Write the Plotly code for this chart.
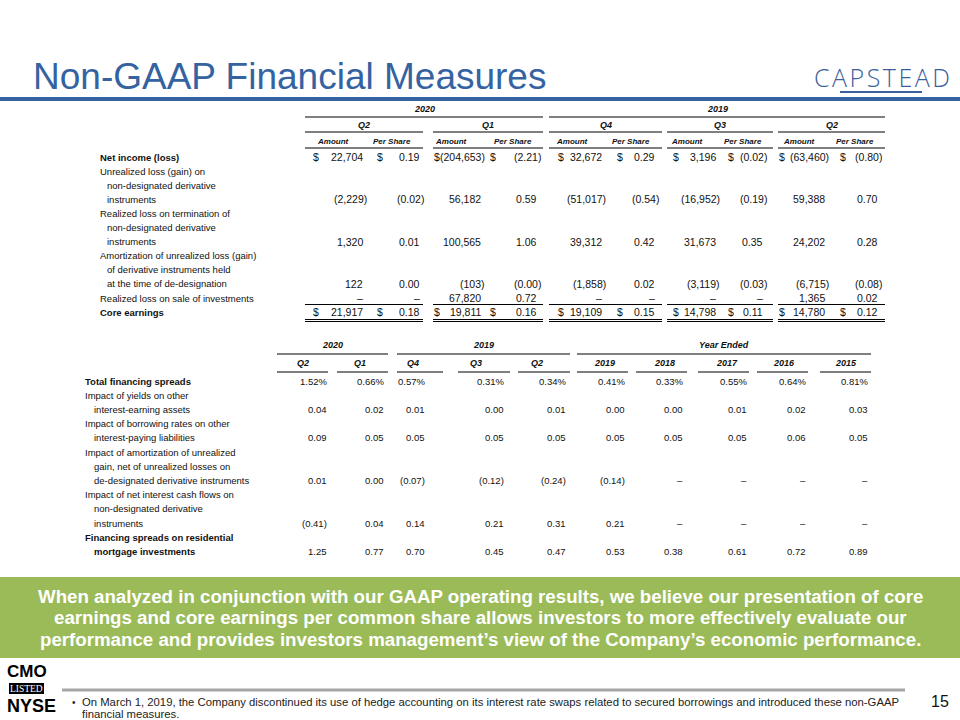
import math
import plotly.graph_objects as go

# ------------------------------------------------------------------ data
title_text = "Non-GAAP Financial Measures"
logo_text = "CAPSTEAD"

# Table 1 : core earnings reconciliation
t1_years = ["2020", "2019"]
t1_quarters = ["Q2", "Q1", "Q4", "Q3", "Q2"]
t1_subheads = ["Amount", "Per Share"]
net_income_amt = [22704, -204653, 32672, 3196, -63460]
net_income_ps = [0.19, -2.21, 0.29, -0.02, -0.80]
unrealized_amt = [-2229, 56182, -51017, -16952, 59388]
unrealized_ps = [-0.02, 0.59, -0.54, -0.19, 0.70]
termination_amt = [1320, 100565, 39312, 31673, 24202]
termination_ps = [0.01, 1.06, 0.42, 0.35, 0.28]
amortization_amt = [122, -103, -1858, -3119, -6715]
amortization_ps = [0.00, -0.0, 0.02, -0.03, -0.08]
sale_amt = [None, 67820, None, None, 1365]
sale_ps = [None, 0.72, None, None, 0.02]
core_amt = [21917, 19811, 19109, 14798, 14780]
core_ps = [0.18, 0.16, 0.15, 0.11, 0.12]

t1_labels = [
    ["Net income (loss)"],
    ["Unrealized loss (gain) on", "non-designated derivative", "instruments"],
    ["Realized loss on termination of", "non-designated derivative", "instruments"],
    ["Amortization of unrealized loss (gain)", "of derivative instruments held",
     "at the time of de-designation"],
    ["Realized loss on sale of investments"],
    ["Core earnings"],
]

# Table 2 : financing spreads
t2_groups = ["2020", "2019", "Year Ended"]
t2_columns = ["Q2", "Q1", "Q4", "Q3", "Q2", "2019", "2018", "2017", "2016", "2015"]
total_spreads = [1.52, 0.66, 0.57, 0.31, 0.34, 0.41, 0.33, 0.55, 0.64, 0.81]
yields_other_assets = [0.04, 0.02, 0.01, 0.00, 0.01, 0.00, 0.00, 0.01, 0.02, 0.03]
borrowing_other_liab = [0.09, 0.05, 0.05, 0.05, 0.05, 0.05, 0.05, 0.05, 0.06, 0.05]
amortization_impact = [0.01, 0.00, -0.07, -0.12, -0.24, -0.14, None, None, None, None]
net_interest_impact = [-0.41, 0.04, 0.14, 0.21, 0.31, 0.21, None, None, None, None]
residential_spreads = [1.25, 0.77, 0.70, 0.45, 0.47, 0.53, 0.38, 0.61, 0.72, 0.89]

t2_labels = [
    ["Total financing spreads"],
    ["Impact of yields on other", "interest-earning assets"],
    ["Impact of borrowing rates on other", "interest-paying liabilities"],
    ["Impact of amortization of unrealized", "gain, net of unrealized losses on",
     "de-designated derivative instruments"],
    ["Impact of net interest cash flows on", "non-designated derivative", "instruments"],
    ["Financing spreads on residential", "mortgage investments"],
]

callout_lines = [
    "When analyzed in conjunction with our GAAP operating results, we believe our presentation of core",
    "earnings and core earnings per common share allows investors to more effectively evaluate our",
    "performance and provides investors management\u2019s view of the Company\u2019s economic performance.",
]
footnote_lines = [
    "On March 1, 2019, the Company discontinued its use of hedge accounting on its interest rate swaps "
    "related to secured borrowings and introduced these non-GAAP",
    "financial measures.",
]
page_number = "15"

# ------------------------------------------------------------------ style / layout constants
ARIAL = "Arial, Liberation Sans, sans-serif"
BLUE = "#3563A2"
GREEN = "#9BBB59"
DASH = "\u2013"

annotations = []
shapes = []


def text(x, y, s, size=9.5, anchor="left", color="#111111", family=ARIAL, weight=None):
    font = dict(size=size, color=color, family=family)
    if weight is not None:
        font["weight"] = weight
    annotations.append(dict(x=x, y=y, xref="x", yref="y", text=s, showarrow=False,
                            xanchor=anchor, yanchor="middle", font=font,
                            borderpad=0, borderwidth=0))


def hline(x0, x1, y, color="#000000", width=1):
    shapes.append(dict(type="line", xref="x", yref="y", x0=x0, x1=x1, y0=y, y1=y,
                       line=dict(color=color, width=width)))


def box(x0, x1, y0, y1, color):
    shapes.append(dict(type="rect", xref="x", yref="y", x0=x0, x1=x1, y0=y0, y1=y1,
                       fillcolor=color, line=dict(width=0), layer="below"))


def is_neg(v):
    return v is not None and math.copysign(1.0, v) < 0


def fmt_amount(v):
    if v is None:
        return DASH
    return f"({abs(v):,})" if is_neg(v) else f"{v:,}"


def fmt_share(v, pct=False):
    if v is None:
        return DASH
    s = f"{abs(v):.2f}"
    if pct:
        s += "%"
    return f"({s})" if is_neg(v) else s


# ------------------------------------------------------------------ header
text(33, 76, title_text, size=37, color=BLUE)
box(0, 960, 97, 101, BLUE)
text(882, 77, "\u200a".join(logo_text), size=25, anchor="center", color="#3B5F9C",
     family="Open Sans, Liberation Sans, sans-serif", weight=300)
hline(840, 922, 92, color="#3B5F9C", width=2)

# ------------------------------------------------------------------ table 1
t1_group_x = [(305, 423), (433, 543), (549, 662), (667, 773), (778, 885)]
t1_year_span = [(305, 543), (549, 885)]
t1_amt_dollar_x = [313, 433.5, 558, 673, 779]
t1_amt_right = [363, 481, 602, 716, 825]
t1_ps_dollar_x = [377, 490, 617, 728, 840]
t1_ps_right = [420, 537, 655, 763, 878]
t1_sub_center = [(333, 392), (451, 513), (572, 631), (687, 743), (799, 855)]
T1_LABEL_X = 100
T1_INDENT = 7
T1_Y0 = 157
T1_STEP = 14.1
T1_NUM_SIZE = 10.5

for yr, (a, b) in zip(t1_years, t1_year_span):
    text((a + b) / 2, 108.5, f"<b><i>{yr}</i></b>", size=9, anchor="center")
    hline(a, b, 117)
for q, (a, b), (c1, c2) in zip(t1_quarters, t1_group_x, t1_sub_center):
    text((a + b) / 2, 124.5, f"<b><i>{q}</i></b>", size=9, anchor="center")
    hline(a, b, 132)
    text(c1, 141, f"<b><i>{t1_subheads[0]}</i></b>", size=8, anchor="center")
    text(c2, 141, f"<b><i>{t1_subheads[1]}</i></b>", size=8, anchor="center")
    hline(a, b, 148)

t1_rows = [
    (net_income_amt, net_income_ps, True, True),
    (unrealized_amt, unrealized_ps, False, False),
    (termination_amt, termination_ps, False, False),
    (amortization_amt, amortization_ps, False, False),
    (sale_amt, sale_ps, False, False),
    (core_amt, core_ps, True, True),
]

line_idx = 0
for labels, (amts, pss, dollars, bold) in zip(t1_labels, t1_rows):
    for k, lab in enumerate(labels):
        y = T1_Y0 + T1_STEP * line_idx
        lab_txt = f"<b>{lab}</b>" if bold else lab
        text(T1_LABEL_X + (T1_INDENT if k > 0 else 0), y, lab_txt)
        line_idx += 1
    y = T1_Y0 + T1_STEP * (line_idx - 1)
    for i in range(len(t1_quarters)):
        a, p = amts[i], pss[i]
        text(t1_amt_right[i] + (3.5 if is_neg(a) else 0), y, fmt_amount(a),
             size=T1_NUM_SIZE, anchor="right")
        text(t1_ps_right[i] + (3.5 if is_neg(p) else 0), y, fmt_share(p),
             size=T1_NUM_SIZE, anchor="right")
        if dollars:
            text(t1_amt_dollar_x[i], y, "$", size=T1_NUM_SIZE)
            text(t1_ps_dollar_x[i], y, "$", size=T1_NUM_SIZE)

for (a, b) in t1_group_x:
    hline(a, b, 304.5)
    hline(a, b, 319.5)
    hline(a, b, 321.5)

# ------------------------------------------------------------------ table 2
t2_group_span = [(277, 388), (397, 570), (577, 871)]
t2_col_span = [(277, 328), (337, 388), (397, 443), (458, 510), (518, 570),
               (577, 628), (636, 687), (698, 749), (757, 808), (820, 871)]
t2_head_center = [303, 360, 413, 476, 537, 604, 664, 727, 784, 846]
t2_val_right = [327, 384, 425, 504, 566, 625, 683, 747, 806, 868]
T2_LABEL_X = 85
T2_INDENT = 9
T2_Y0 = 381
T2_STEP = 14.2

for g, (a, b) in zip(t2_groups, t2_group_span):
    text((a + b) / 2, 345, f"<b><i>{g}</i></b>", size=9, anchor="center")
    hline(a, b, 354)
for c, (a, b), cx in zip(t2_columns, t2_col_span, t2_head_center):
    text(cx, 363, f"<b><i>{c}</i></b>", size=9, anchor="center")
    hline(a, b, 372)

t2_rows = [
    (total_spreads, True, True),
    (yields_other_assets, False, False),
    (borrowing_other_liab, False, False),
    (amortization_impact, False, False),
    (net_interest_impact, False, False),
    (residential_spreads, False, True),
]
line_idx = 0
for labels, (vals, pct, bold) in zip(t2_labels, t2_rows):
    for k, lab in enumerate(labels):
        y = T2_Y0 + T2_STEP * line_idx
        lab_txt = f"<b>{lab}</b>" if bold else lab
        text(T2_LABEL_X + (T2_INDENT if k > 0 else 0), y, lab_txt)
        line_idx += 1
    y = T2_Y0 + T2_STEP * (line_idx - 1)
    for i, v in enumerate(vals):
        text(t2_val_right[i], y, fmt_share(v, pct), size=9.5, anchor="right")

# ------------------------------------------------------------------ callout
box(0, 960, 577, 658, GREEN)
for yy, line in zip([596, 617.5, 639], callout_lines):
    text(480, yy, f"<b>{line}</b>", size=18.7, anchor="center", color="#FFFFFF")

# ------------------------------------------------------------------ footer
text(27, 671, "<b>CMO</b>", size=17, anchor="center", color="#000000")
box(9, 44, 683, 694, "#000000")
text(26.5, 688.7, "LISTED", size=9.5, anchor="center", color="#FFFFFF",
     family="Liberation Serif, Times New Roman, serif")
text(31, 706, "<b>NYSE</b>", size=18, anchor="center", color="#000000")
hline(62, 905, 690, color="#A6A6A6", width=3)
text(72, 702, "\u2022", size=10, color="#222222")
text(82, 702, footnote_lines[0], size=11.3, color="#222222")
text(82, 713.5, footnote_lines[1], size=11.3, color="#222222")
text(940, 701, page_number, size=16, anchor="center", color="#111111")

# ------------------------------------------------------------------ figure
fig = go.Figure(go.Scatter(x=[None], y=[None], mode="markers", showlegend=False,
                           hoverinfo="skip"))
fig.update_layout(
    width=960, height=720,
    margin=dict(l=0, r=0, t=0, b=0),
    paper_bgcolor="#FFFFFF", plot_bgcolor="#FFFFFF",
    xaxis=dict(range=[0, 960], visible=False, fixedrange=True),
    yaxis=dict(range=[720, 0], visible=False, fixedrange=True),
    annotations=annotations,
    shapes=shapes,
    showlegend=False,
)
fig.write_html("out.html", config={"displayModeBar": False},
               post_script="document.body.style.margin='0';document.body.style.overflow='hidden';")
